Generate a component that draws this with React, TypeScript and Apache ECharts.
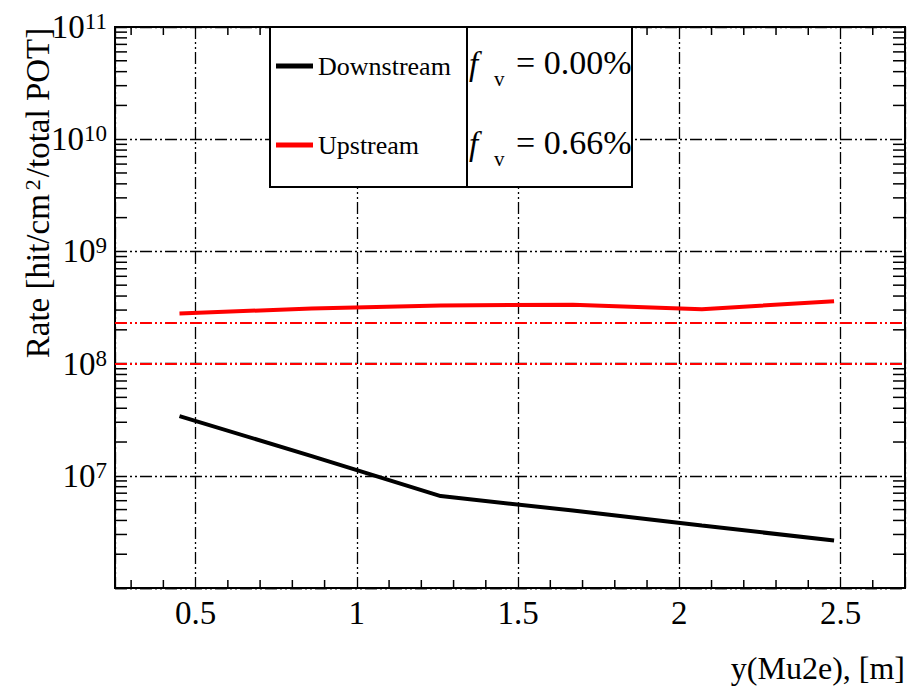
import React, { useEffect, useRef } from "react";
import * as echarts from "echarts";

// ---- data ----
const xPositions = [0.45, 0.86, 1.26, 1.67, 2.07, 2.48];
const downstream = [3.4e7, 1.5e7, 6.6e6, 4.9e6, 3.6e6, 2.65e6];
const upstream = [2.8e8, 3.1e8, 3.3e8, 3.35e8, 3.05e8, 3.6e8];
const seriesNames = ["Downstream", "Upstream"];
const fractionLabels = ["0.00%", "0.66%"];
const thresholdLevels = [2.3e8, 1e8];
const xMinorTicks = [0.3, 0.4, 0.6, 0.7, 0.8, 0.9, 1.1, 1.2, 1.3, 1.4, 1.6, 1.7, 1.8, 1.9, 2.1, 2.2, 2.3, 2.4, 2.6];
const yDecades = [1e6, 1e7, 1e8, 1e9, 1e10];
const yMinorMultipliers = [2, 3, 4, 5, 6, 7, 8, 9];
const xTitle = "y(Mu2e), [m]";

const SERIF = "'Liberation Serif', 'DejaVu Serif', serif";
const GRID_DASH = [12, 3, 2, 3, 2, 3];

export default function App() {
  const ref = useRef<HTMLDivElement>(null);

  useEffect(() => {
    if (!ref.current) return;
    const chart = echarts.init(ref.current, null, { renderer: "svg" });

    const option: any = {
      animation: false,
      backgroundColor: "#fff",
      grid: {
        left: 115,
        top: 27,
        right: 13,
        bottom: 100,
        show: true,
        borderColor: "#000",
        borderWidth: 2,
        backgroundColor: "transparent",
      },
      xAxis: {
        type: "value",
        min: 0.25,
        max: 2.7,
        splitNumber: 5,
        axisLine: { show: true, lineStyle: { color: "#000", width: 2 } },
        axisTick: { show: false },
        axisLabel: {
          margin: 8,
          color: "#000",
          fontFamily: SERIF,
          fontSize: 33,
          formatter: (v: number) => {
            const r = Math.round(v * 2);
            return Math.abs(v * 2 - r) < 1e-6 ? String(v) : "";
          },
        },
        splitLine: { show: true, lineStyle: { color: "#000", width: 1.3, type: GRID_DASH } },
      },
      yAxis: {
        type: "log",
        logBase: 10,
        min: 1e6,
        max: 1e11,
        axisLine: { show: true, lineStyle: { color: "#000", width: 2 } },
        axisTick: { show: false },
        minorTick: { show: false },
        axisLabel: {
          margin: 8,
          color: "#000",
          formatter: (v: number) => {
            const e = Math.round(Math.log10(v));
            if (e <= 6) return "";
            return `{b|10}{s|${e}}`;
          },
          rich: {
            b: { fontFamily: SERIF, fontSize: 33, color: "#000", lineHeight: 34 },
            s: { fontFamily: SERIF, fontSize: 23, color: "#000", verticalAlign: "top", lineHeight: 34, padding: [0, 0, 8, 0] },
          },
        },
        splitLine: { show: true, lineStyle: { color: "#000", width: 1.3, type: GRID_DASH } },
      },
      legend: {
        data: seriesNames.map((n) => ({ name: n, icon: "rect" })),
        orient: "vertical",
        left: 276,
        top: 53,
        padding: 0,
        itemWidth: 37,
        itemHeight: 5,
        itemGap: 53,
        textStyle: { fontFamily: SERIF, fontSize: 26, color: "#000", lineHeight: 26 },
        z: 20,
      },
      series: [
        {
          name: seriesNames[0],
          type: "line",
          data: xPositions.map((x, i) => [x, downstream[i]]),
          symbol: "none",
          lineStyle: { color: "#000", width: 4 },
          itemStyle: { color: "#000" },
          z: 5,
        },
        {
          name: seriesNames[1],
          type: "line",
          data: xPositions.map((x, i) => [x, upstream[i]]),
          symbol: "none",
          lineStyle: { color: "#ff0000", width: 4 },
          itemStyle: { color: "#ff0000" },
          z: 5,
          markLine: {
            silent: true,
            symbol: ["none", "none"],
            label: { show: false },
            lineStyle: { color: "#ff0000", width: 2, type: GRID_DASH },
            data: thresholdLevels.map((v) => ({ yAxis: v })),
          },
        },
        {
          name: "ticks",
          type: "custom",
          silent: true,
          clip: false,
          z: 4,
          data: [[1, 1e8]],
          renderItem: (params: any, api: any) => {
            const cs = params.coordSys;
            const left = cs.x;
            const right = cs.x + cs.width;
            const top = cs.y;
            const bottom = cs.y + cs.height;
            const st = { stroke: "#000", lineWidth: 1.5 };
            const children: any[] = [];
            xMinorTicks.forEach((v) => {
              const px = api.coord([v, 1e8])[0];
              children.push({ type: "line", shape: { x1: px, y1: bottom, x2: px, y2: bottom - 8 }, style: st });
              children.push({ type: "line", shape: { x1: px, y1: top, x2: px, y2: top + 8 }, style: st });
            });
            yDecades.forEach((d) => {
              yMinorMultipliers.forEach((m) => {
                const py = api.coord([1, d * m])[1];
                children.push({ type: "line", shape: { x1: left, y1: py, x2: left + 12, y2: py }, style: st });
                children.push({ type: "line", shape: { x1: right, y1: py, x2: right - 12, y2: py }, style: st });
              });
            });
            return { type: "group", children };
          },
        },
      ],
      graphic: [
        {
          type: "rect",
          z: 10,
          shape: { x: 270, y: 27, width: 362, height: 160 },
          style: { fill: "#fff", stroke: "#000", lineWidth: 2 },
        },
        {
          type: "line",
          z: 11,
          shape: { x1: 467, y1: 27, x2: 467, y2: 187 },
          style: { stroke: "#000", lineWidth: 2 },
        },
        ...fractionLabels.flatMap((lab, i) => {
          const cy = 62 + i * 80;
          return [
            {
              type: "text",
              z: 11,
              x: 469,
              y: cy + 2,
              style: { text: "f", font: `italic 33px ${SERIF}`, fill: "#000", verticalAlign: "middle" },
            },
            {
              type: "text",
              z: 11,
              x: 494,
              y: cy + 17,
              style: { text: "v", font: `21px ${SERIF}`, fill: "#000", verticalAlign: "middle" },
            },
            {
              type: "text",
              z: 11,
              x: 516,
              y: cy,
              style: { text: `= ${lab}`, font: `34px ${SERIF}`, fill: "#000", verticalAlign: "middle" },
            },
          ];
        }),
        {
          type: "text",
          z: 11,
          x: 38,
          y: 193,
          rotation: Math.PI / 2,
          style: {
            text: "{a|Rate [hit/cm}{s|2}{a|/total POT]}",
            align: "center",
            verticalAlign: "middle",
            rich: {
              a: { fontFamily: SERIF, fontSize: 33, fill: "#000", lineHeight: 34 },
              s: { fontFamily: SERIF, fontSize: 22, fill: "#000", verticalAlign: "top", lineHeight: 34, padding: [0, 2, 8, 4] },
            },
          },
        },
        {
          type: "text",
          z: 11,
          x: 905,
          y: 668,
          style: { text: xTitle, font: `32px ${SERIF}`, fill: "#000", align: "right", verticalAlign: "middle" },
        },
      ],
    };

    chart.setOption(option);
    return () => chart.dispose();
  }, []);

  return (
    <div
      ref={ref}
      style={{ position: "fixed", left: 0, top: 0, width: 918, height: 688 }}
    />
  );
}
